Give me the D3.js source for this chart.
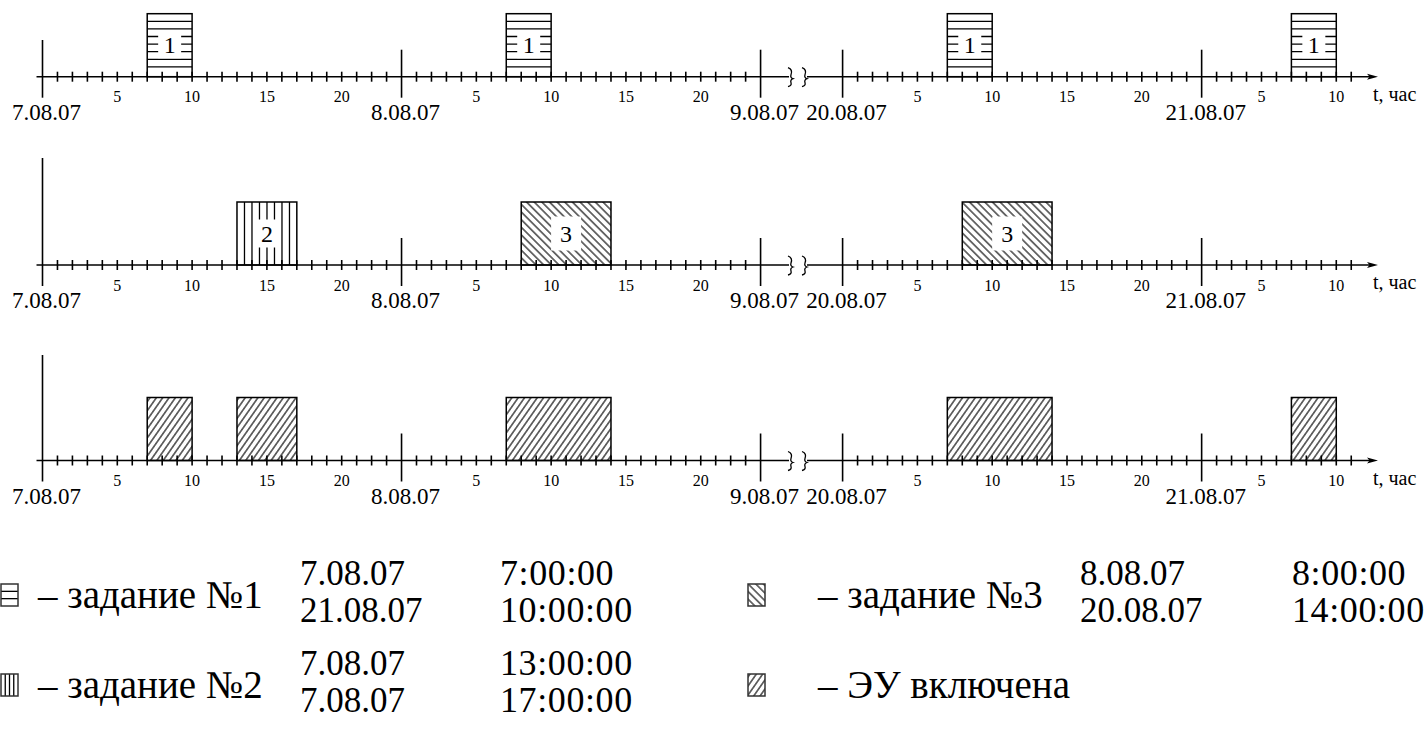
<!DOCTYPE html>
<html>
<head>
<meta charset="utf-8">
<script src="https://cdnjs.cloudflare.com/ajax/libs/d3/7.8.5/d3.min.js"></script>
<style>
  body { margin: 0; background: #fff; }
  svg { display: block; }
</style>
</head>
<body>
<svg id="chart" width="1427" height="737" font-family="'Liberation Serif', 'DejaVu Serif', serif"></svg>
<script>
// days shown on the time axis (hours counted from 7.08.07 00:00)
const dayLabels = ['7.08.07', '8.08.07', '9.08.07', '20.08.07', '21.08.07']
const dayLineHour = [0, 24, 48, 312, 336]
// the drawing puts the 21.08 hours one tick early, so its origin is 335
const dayOrigin = [0, 24, 48, 312, 335]
const hourLabels = [5, 10, 15, 20]
const labelledDays = [0, 1, 3]
const lastDayLabels = [5, 10]

const rows = ['task1', 'task23', 'power']

// intervals: day index, start hour, end hour
const task1 = [{day: 0, from: 7, to: 10}, {day: 1, from: 7, to: 10}, {day: 3, from: 7, to: 10}, {day: 4, from: 7, to: 10}]
const task2 = [{day: 0, from: 13, to: 17}]
const task3 = [{day: 1, from: 8, to: 14}, {day: 3, from: 8, to: 14}]
const power = [{day: 0, from: 7, to: 10}, {day: 0, from: 13, to: 17}, {day: 1, from: 7, to: 14}, {day: 3, from: 7, to: 14}, {day: 4, from: 7, to: 10}]

// legend
const legendNames = ['– задание №1', '– задание №2', '– задание №3', '– ЭУ включена']
const legendDates = [['7.08.07', '21.08.07'], ['7.08.07', '7.08.07'], ['8.08.07', '20.08.07'], null]
const legendTimes = [['7:00:00', '10:00:00'], ['13:00:00', '17:00:00'], ['8:00:00', '14:00:00'], null]

const pxPerHour = 14.96
const svg = d3.select('#chart')

// broken time axis: 7.08-9.08, then 20.08 onwards
const x = d3.scaleLinear()
  .domain([0, 48, 312, 360])
  .range([42.5, 42.5 + 48 * pxPerHour, 842.6, 842.6 + 48 * pxPerHour])

const rowY = d3.scaleOrdinal().domain(rows).range([76.7, 265, 460.5])
const yAxisTop = d3.scaleOrdinal().domain(rows).range([40, 158, 355])
const boxH = d3.scaleLinear().domain([0, 1]).range([0, 63])

const defs = svg.append('defs')
function diag(id, angle, step) {
  defs.append('pattern')
    .attr('id', id)
    .attr('patternUnits', 'userSpaceOnUse')
    .attr('width', step).attr('height', 20)
    .attr('patternTransform', `rotate(${angle})`)
    .append('line')
    .attr('x1', step / 2).attr('x2', step / 2)
    .attr('y1', 0).attr('y2', 20)
    .attr('stroke', '#000').attr('stroke-width', 1.1)
}
diag('back', -45, 5.4)
diag('fwd', 35, 5.2)

const marks = svg.append('g')

function drawBoxes(row, data, hatch, label, gap) {
  data.forEach(d => {
    const x0 = x(dayOrigin[d.day] + d.from)
    const x1 = x(dayOrigin[d.day] + d.to)
    const yb = rowY(row)
    const yt = yb - boxH(1)
    const g = marks.append('g')
    g.append('rect')
      .attr('x', x0).attr('y', yt)
      .attr('width', x1 - x0).attr('height', boxH(1))
      .attr('fill', hatch === 'h' || hatch === 'v' ? '#fff' : `url(#${hatch})`)
    if (hatch === 'h') {
      d3.range(1, 8).forEach(k => {
        g.append('line').attr('x1', x0).attr('x2', x1)
          .attr('y1', yt + k * 7.6).attr('y2', yt + k * 7.6)
          .attr('stroke', '#000').attr('stroke-width', 1.3)
      })
    }
    if (hatch === 'v') {
      const n = Math.floor((x1 - x0) / 7.5 - 0.01)
      d3.range(1, n + 1).forEach(k => {
        g.append('line').attr('y1', yt).attr('y2', yb)
          .attr('x1', x0 + k * 7.5).attr('x2', x0 + k * 7.5)
          .attr('stroke', '#000').attr('stroke-width', 1.3)
      })
    }
    if (label) {
      const cx = (x0 + x1) / 2, cy = (yt + yb) / 2
      g.append('rect')
        .attr('x', cx - gap[0] / 2).attr('y', cy - gap[1] / 2)
        .attr('width', gap[0]).attr('height', gap[1])
        .attr('fill', '#fff')
      g.append('text')
        .attr('x', cx).attr('y', cy + 8)
        .attr('text-anchor', 'middle')
        .attr('font-size', 24)
        .text(label)
    }
    g.append('rect')
      .attr('x', x0).attr('y', yt)
      .attr('width', x1 - x0).attr('height', boxH(1))
      .attr('fill', 'none').attr('stroke', '#000').attr('stroke-width', 1.5)
  })
}

drawBoxes('task1', task1, 'h', '1', [23, 26])
drawBoxes('task23', task2, 'v', '2', [25, 28])
drawBoxes('task23', task3, 'back', '3', [30, 34])
drawBoxes('power', power, 'fwd', null)

// axes
rows.forEach(row => {
  const y0 = rowY(row)
  const g = svg.append('g').attr('stroke', '#000').attr('stroke-width', 1.6).attr('fill', 'none')

  g.append('line').attr('x1', x(-0.4)).attr('x2', 789).attr('y1', y0).attr('y2', y0)
  g.append('line').attr('x1', 807).attr('x2', 1370).attr('y1', y0).attr('y2', y0)

  // break marks
  ;[790, 804].forEach(bx => {
    g.append('path')
      .attr('stroke-width', 1.3)
      .attr('d', `M${bx - 2},${y0 - 9} Q${bx + 3},${y0 - 7} ${bx + 1},${y0 - 2} Q${bx},${y0 + 1} ${bx + 3},${y0 + 2} Q${bx},${y0 + 3} ${bx + 1},${y0 + 6} Q${bx + 2},${y0 + 9} ${bx - 2},${y0 + 10}`)
  })

  // arrow
  svg.append('path')
    .attr('d', `M1378,${y0} L1367,${y0 - 3} L1369.5,${y0} L1367,${y0 + 3} Z`)
    .attr('fill', '#000')

  // hour ticks
  const ticks = d3.range(1, 48).filter(t => t !== 24).concat(d3.range(313, 347).filter(t => t !== 336))
  g.selectAll('line.tick').data(ticks).enter().append('line')
    .attr('class', 'tick')
    .attr('x1', d => x(d)).attr('x2', d => x(d))
    .attr('y1', y0 - 5).attr('y2', y0 + 5)

  // day dividers
  dayLineHour.forEach((hr, i) => {
    g.append('line')
      .attr('x1', x(hr)).attr('x2', x(hr))
      .attr('y1', i === 0 ? yAxisTop(row) : y0 - 27)
      .attr('y2', y0 + 21)
  })

  const t = svg.append('g')
  labelledDays.forEach(di => {
    hourLabels.forEach(hl => {
      t.append('text').attr('x', x(dayOrigin[di] + hl)).attr('y', y0 + 25.5)
        .attr('text-anchor', 'middle').attr('font-size', 16).text(hl)
    })
  })
  lastDayLabels.forEach(hl => {
    t.append('text').attr('x', x(dayOrigin[4] + hl)).attr('y', y0 + 25.5)
      .attr('text-anchor', 'middle').attr('font-size', 16).text(hl)
  })
  dayLabels.forEach((lab, i) => {
    t.append('text').attr('x', x(dayLineHour[i]) + 4).attr('y', y0 + 43)
      .attr('text-anchor', 'middle').attr('font-size', 23).text(lab)
  })
  t.append('text').attr('x', 1373).attr('y', y0 + 24)
    .attr('font-size', 20).text('t, час')
})

// legend
const legendX = [[1, 38, 300, 500], [1, 38, 300, 500], [748, 818, 1080, 1292], [748, 818, 1080, 1292]]
const legendY = [597, 687, 597, 687]
const lg = svg.append('g')

function twoLines(xp, y, lines, size, spacing) {
  const tx = lg.append('text').attr('x', xp).attr('y', y).attr('font-size', size)
    .attr('letter-spacing', spacing)
  lines.forEach((s, k) => tx.append('tspan').attr('x', xp).attr('dy', k === 0 ? 0 : 37).text(s))
}

legendNames.forEach((name, i) => {
  const [ix, tx, dx, hx] = legendX[i]
  const cy = legendY[i]
  const iw = 17, ih = 22, iy = cy - 13
  const icon = lg.append('g')
  icon.append('rect').attr('x', ix).attr('y', iy).attr('width', iw).attr('height', ih)
    .attr('fill', i >= 2 ? `url(#${i === 2 ? 'back' : 'fwd'})` : '#fff')
  if (i === 0) {
    [1, 2].forEach(k => icon.append('line').attr('x1', ix).attr('x2', ix + iw)
      .attr('y1', iy + k * ih / 3).attr('y2', iy + k * ih / 3).attr('stroke', '#000').attr('stroke-width', 1.3))
  }
  if (i === 1) {
    [1, 2, 3].forEach(k => icon.append('line').attr('y1', iy).attr('y2', iy + ih)
      .attr('x1', ix + k * iw / 4).attr('x2', ix + k * iw / 4).attr('stroke', '#000').attr('stroke-width', 1.3))
  }
  icon.append('rect').attr('x', ix).attr('y', iy).attr('width', iw).attr('height', ih)
    .attr('fill', 'none').attr('stroke', '#333').attr('stroke-width', 1.5)

  lg.append('text').attr('x', tx).attr('y', cy + 11).attr('font-size', 39).text(name)
  if (legendDates[i]) {
    twoLines(dx, cy - 12, legendDates[i], 35, 0)
    twoLines(hx, cy - 12, legendTimes[i], 36, 0.6)
  }
})
</script>
</body>
</html>
